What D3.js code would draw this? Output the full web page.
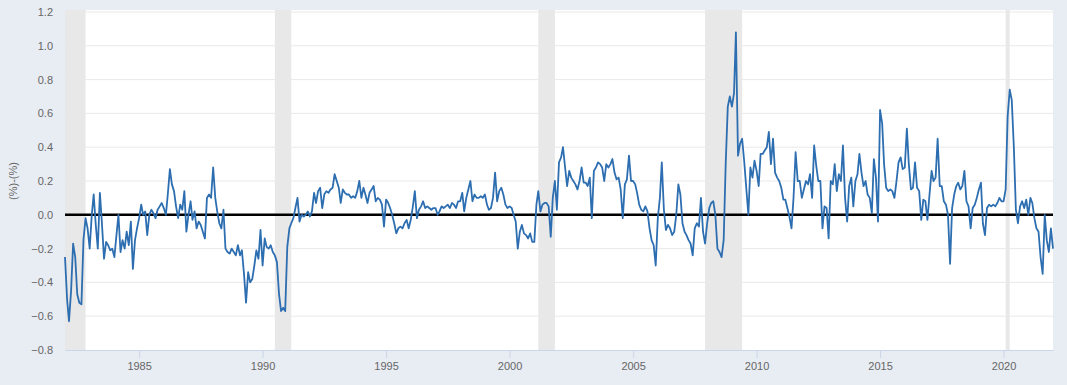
<!DOCTYPE html>
<html>
<head>
<meta charset="utf-8">
<script src="https://cdn.jsdelivr.net/npm/d3@7"></script>
<style>
  html, body { margin: 0; padding: 0; background: #e8ecf3; }
  svg { display: block; }
</style>
</head>
<body>
<div id="drawing_region"></div>
<script>
// monthly values, starting Jan 1982
const startYear = 1982;

const values1980s = [
  -0.25, -0.5, -0.63, -0.45, -0.17, -0.25, -0.47, -0.52, -0.53, -0.15, -0.02, -0.08,
  -0.2, 0.0, 0.12, -0.06, -0.2, 0.13, -0.05, -0.26, -0.16, -0.18, -0.21, -0.2,
  -0.25, -0.12, 0.0, -0.22, -0.15, -0.2, -0.1, -0.18, -0.04, -0.32, -0.15, -0.08,
  -0.02, 0.06, 0.0, 0.02, -0.12, 0.0, 0.03, 0.01, -0.02, 0.03, 0.05, 0.07,
  0.04, 0.0, 0.12, 0.27, 0.18, 0.14, 0.05, -0.02, 0.06, 0.03, 0.14, -0.1,
  0.0, 0.08, -0.03, 0.02, -0.08, -0.04, -0.06, -0.1, -0.14, 0.1, 0.12, 0.1,
  0.28, 0.1, 0.02, -0.05, -0.08, 0.03, -0.2, -0.22, -0.23, -0.2, -0.22, -0.24,
  -0.18, -0.24, -0.21, -0.35, -0.52, -0.34, -0.4, -0.38, -0.3, -0.21, -0.26, -0.09
];

const values1990s = [
  -0.3, -0.14, -0.19, -0.2, -0.18, -0.22, -0.24, -0.28, -0.47, -0.57, -0.55, -0.57,
  -0.19, -0.08, -0.05, -0.02, 0.04, 0.1, -0.04, 0.0, -0.01, 0.0, 0.02, -0.01,
  0.02, 0.13, 0.07, 0.14, 0.16, 0.04, 0.12, 0.14, 0.13, 0.15, 0.16, 0.24,
  0.2, 0.16, 0.07, 0.15, 0.13, 0.12, 0.12, 0.1, 0.11, 0.1, 0.14, 0.2,
  0.1, 0.16, 0.12, 0.07, 0.13, 0.15, 0.17, 0.08, 0.1, 0.09, 0.06, -0.07,
  0.09, 0.07, 0.04, 0.0, -0.05, -0.11, -0.08, -0.07, -0.08, -0.05, -0.03, -0.08,
  -0.03, 0.05, 0.14, -0.02, 0.03, 0.05, 0.08, 0.04, 0.05, 0.04, 0.03, 0.04,
  0.04, 0.0, 0.02, 0.05, 0.04, 0.05, 0.06, 0.04, 0.07, 0.06, 0.04, 0.08,
  0.08, 0.13, 0.02, 0.1, 0.15, 0.2, 0.08, 0.12, 0.1, 0.1, 0.11, 0.1,
  0.12, 0.06, 0.03, 0.04, 0.1, 0.25, 0.08, 0.14, 0.16, 0.12, 0.06, 0.04
];

const values2000s = [
  0.05, 0.04, 0.0, -0.04, -0.2, -0.1, -0.06, -0.11, -0.12, -0.14, -0.11, -0.16,
  -0.16, 0.06, 0.14, 0.02, 0.06, 0.07, 0.07, 0.05, -0.13, 0.1, 0.2, 0.03,
  0.31, 0.34, 0.4, 0.28, 0.17, 0.26, 0.22, 0.2, 0.18, 0.15, 0.2, 0.28,
  0.19, 0.19, 0.17, 0.22, -0.02, 0.26, 0.28, 0.31, 0.3, 0.28, 0.2, 0.3,
  0.28, 0.3, 0.33, 0.25, 0.21, 0.22, 0.15, -0.02, 0.18, 0.21, 0.35, 0.2,
  0.2, 0.18, 0.13, 0.06, 0.03, 0.02, 0.05, 0.02, -0.08, -0.15, -0.18, -0.3,
  -0.02, 0.1, 0.31, 0.03, -0.09, -0.06, -0.08, -0.12, -0.1, 0.0, 0.18, 0.12,
  -0.05, -0.1, -0.12, -0.15, -0.17, -0.24, -0.08, -0.05, -0.07, 0.1, -0.1, -0.17,
  -0.05, 0.04, 0.07, 0.08, 0.0, -0.2, -0.22, -0.25, -0.15, 0.3, 0.64, 0.7,
  0.64, 0.72, 1.08, 0.35, 0.42, 0.45, 0.32, 0.16, 0.0, 0.28, 0.22, 0.32
];

const values2010s = [
  0.26, 0.17, 0.36, 0.36, 0.38, 0.4, 0.49, 0.3, 0.45, 0.25, 0.22, 0.2,
  0.16, 0.09, 0.09, 0.04, -0.01, -0.08, 0.1, 0.37, 0.2, 0.2, 0.1, 0.15,
  0.2, 0.18, 0.24, 0.1, 0.41, 0.29, 0.2, 0.2, -0.08, 0.05, 0.04, -0.14,
  0.2, 0.18, 0.3, 0.14, 0.24, 0.2, 0.41, 0.1, -0.04, 0.17, 0.22, 0.05,
  0.2, 0.24, 0.36, 0.25, 0.17, 0.2, 0.12, 0.1, 0.01, 0.33, 0.22, -0.04,
  0.62, 0.54, 0.3, 0.16, 0.14, 0.15, 0.14, 0.1, 0.2, 0.31, 0.34, 0.27,
  0.28, 0.51, 0.3, 0.15, 0.16, 0.31, 0.16, 0.14, -0.03, 0.09, 0.08, -0.03,
  0.12, 0.26, 0.2, 0.22, 0.45, 0.17, 0.17, 0.08, 0.06, 0.0, -0.29, 0.04,
  0.12, 0.17, 0.19, 0.15, 0.17, 0.26, 0.08, 0.05, -0.08, 0.04, 0.06, 0.1,
  0.15, 0.19, -0.05, -0.12, 0.04, 0.06, 0.05, 0.06, 0.05, 0.07, 0.1, 0.08
];

const values2020s = [
  0.08, 0.15, 0.58, 0.74, 0.68, 0.4, 0.03, -0.05, 0.05, 0.08, 0.04, 0.09,
  0.0, 0.1, 0.07, -0.02, -0.08, -0.1, -0.25, -0.35, 0.0, -0.15, -0.22, -0.08,
  -0.2
];

const recessionStarts = ["1981-07-01", "1990-07-01", "2001-03-01", "2007-12-01", "2020-02-01"];
const recessionEnds   = ["1982-11-01", "1991-03-01", "2001-11-01", "2009-06-01", "2020-04-01"];

const yTicks = [-0.8, -0.6, -0.4, -0.2, 0.0, 0.2, 0.4, 0.6, 0.8, 1.0, 1.2];
const xTickYears = [1985, 1990, 1995, 2000, 2005, 2010, 2015, 2020];
const yLabel = "(%)-(%)";

const allValues = values1980s.concat(values1990s, values2000s, values2010s, values2020s);
const data = allValues.map((v, i) => ({ date: new Date(startYear, i, 1), value: v }));

const width = 1067, height = 385;
const margin = { top: 12, right: 14, bottom: 35, left: 65 };
const plotTop = 10;

const svg = d3.select("#drawing_region").append("svg")
  .attr("width", width)
  .attr("height", height)
  .style("font-family", "'Liberation Sans', Arial, sans-serif");

svg.append("rect").attr("width", width).attr("height", height).attr("fill", "#e8ecf3");

const xscale = d3.scaleTime()
  .domain([new Date(1982, 0, 1), new Date(2022, 0, 1)])
  .range([margin.left, width - margin.right]);

const yscale = d3.scaleLinear()
  .domain([-0.8, 1.2])
  .range([height - margin.bottom, margin.top]);

const x0 = xscale.range()[0], x1 = xscale.range()[1];
const yBottom = yscale(-0.8);

// plot background
svg.append("rect")
  .attr("x", x0).attr("y", plotTop)
  .attr("width", x1 - x0).attr("height", yBottom - plotTop)
  .attr("fill", "#ffffff");

// recession bands
const parse = d3.timeParse("%Y-%m-%d");
const bands = recessionStarts.map((s, i) => ({ start: parse(s), end: parse(recessionEnds[i]) }));
svg.append("g").selectAll("rect").data(bands).join("rect")
  .attr("x", d => Math.max(x0, xscale(d.start)))
  .attr("y", plotTop)
  .attr("width", d => xscale(d.end) - Math.max(x0, xscale(d.start)))
  .attr("height", yBottom - plotTop)
  .attr("fill", "#e8e8e8");

// grid lines
svg.append("g").selectAll("line").data(yTicks.filter(t => t !== 0 && t !== -0.8)).join("line")
  .attr("x1", x0).attr("x2", x1)
  .attr("y1", d => yscale(d)).attr("y2", d => yscale(d))
  .attr("stroke", "#e9e9e9").attr("stroke-width", 1);

// y axis
const yaxis = d3.axisLeft(yscale).tickValues(yTicks).tickFormat(d3.format(".1f")).tickSize(0).tickPadding(12);
const yg = svg.append("g").attr("transform", `translate(${x0},0)`).call(yaxis);
yg.select(".domain").remove();
yg.selectAll("text").attr("fill", "#666").style("font-size", "11px");

// x axis
const xaxis = d3.axisBottom(xscale)
  .tickValues(xTickYears.map(y => new Date(y, 0, 1)))
  .tickFormat(d3.timeFormat("%Y"))
  .tickSize(8).tickPadding(4).tickSizeOuter(0);
const xg = svg.append("g").attr("transform", `translate(0,${yBottom})`).call(xaxis);
xg.select(".domain").attr("stroke", "#ccd6eb");
xg.selectAll(".tick line").attr("stroke", "#ccd6eb");
xg.selectAll("text").attr("fill", "#666").style("font-size", "11px");

// y label
svg.append("text")
  .attr("transform", `translate(17,181) rotate(-90)`)
  .attr("text-anchor", "middle")
  .attr("fill", "#666")
  .style("font-size", "11px")
  .text(yLabel);

// zero line
svg.append("line")
  .attr("x1", x0).attr("x2", x1)
  .attr("y1", yscale(0)).attr("y2", yscale(0))
  .attr("stroke", "#000").attr("stroke-width", 2.5);

// series
const line = d3.line().x(d => xscale(d.date)).y(d => yscale(d.value));
svg.append("path")
  .datum(data)
  .attr("d", line)
  .attr("fill", "none")
  .attr("stroke", "#2d6eb1")
  .attr("stroke-width", 1.8)
  .attr("stroke-linejoin", "round");
</script>
</body>
</html>
